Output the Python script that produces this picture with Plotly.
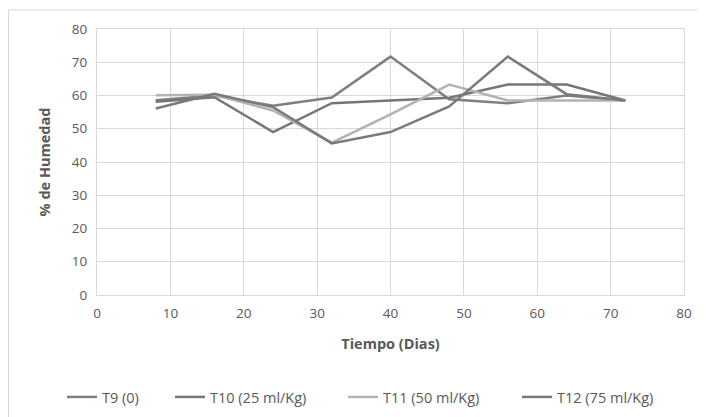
import plotly.graph_objects as go

dias = [8, 16, 24, 32, 40, 48, 56, 64, 72]
t9 = [58.6, 60.0, 56.9, 59.4, 71.7, 58.9, 57.7, 60.0, 58.5]
t10 = [58.1, 59.5, 49.0, 57.7, 58.5, 59.3, 63.3, 63.3, 58.5]
t11 = [60.1, 60.2, 55.5, 45.8, 54.3, 63.3, 58.5, 58.5, 58.5]
t12 = [56.1, 60.5, 56.5, 45.6, 49.0, 56.7, 71.7, 60.4, 58.5]
names = ["T9 (0)", "T10 (25 ml/Kg)", "T11 (50 ml/Kg)", "T12 (75 ml/Kg)"]
colors = ["#7f7f7f", "#767676", "#b3b3b3", "#7a7a7a"]
series = [t9, t10, t11, t12]

font = "Open Sans, Liberation Sans, sans-serif"
# page body has an 8px margin; compensate
OFF = 8
W, H = 706 - OFF, 417 - OFF
L, R, T, B = 97 - OFF, 22, 29 - OFF, 122
pw, ph = W - L - R, H - T - B

def px(xpix):
    return (xpix - OFF - L) / pw

def py(ypix):
    return (H - B - (ypix - OFF)) / ph

def cx(xpix):
    return (xpix - OFF) / W

def cy(ypix):
    return (H - (ypix - OFF)) / H

legend_ids = ["legend", "legend2", "legend3", "legend4"]
legend_x = [62, 170, 343, 517]

fig = go.Figure()
for n, c, s, lid in zip(names, colors, series, legend_ids):
    fig.add_trace(go.Scatter(x=dias, y=s, mode="lines", name=n, legend=lid,
                             line=dict(color=c, width=2.5)))

legend_layout = {}
for lid, lx in zip(legend_ids, legend_x):
    legend_layout[lid] = dict(orientation="h", xref="container", yref="container",
                              x=cx(lx), xanchor="left",
                              y=cy(397), yanchor="middle",
                              font=dict(size=14.5, color="#595959"),
                              bgcolor="rgba(0,0,0,0)")

fig.update_layout(
    width=W, height=H,
    margin=dict(l=L, r=R, t=T, b=B, autoexpand=False),
    paper_bgcolor="white", plot_bgcolor="white",
    font=dict(family=font, color="#595959", size=13),
    showlegend=True,
    xaxis=dict(range=[0, 80], dtick=10, showgrid=True, gridcolor="#d9d9d9",
               zeroline=False, showline=True, linecolor="#d9d9d9", linewidth=1,
               mirror=True, ticks="", tickfont=dict(size=13.5, color="#595959"),
               ticklabelstandoff=6,
               title=dict(text="<b>Tiempo (Dias)</b>", font=dict(size=14.5, color="#595959"),
                          standoff=17)),
    yaxis=dict(range=[0, 80], dtick=10, showgrid=True, gridcolor="#d9d9d9",
               zeroline=False, showline=True, linecolor="#d9d9d9", linewidth=1,
               mirror=True, ticks="", tickfont=dict(size=13.5, color="#595959"),
               ticklabelstandoff=6,
               title=dict(text="<b>% de Humedad</b>", font=dict(size=14.5, color="#595959"),
                          standoff=17)),
    shapes=[
        dict(type="line", xref="paper", yref="paper",
             x0=px(8.5), x1=px(706), y0=py(10), y1=py(10),
             line=dict(color="#d9d9d9", width=1)),
        dict(type="line", xref="paper", yref="paper",
             x0=px(8.5), x1=px(8.5), y0=py(10), y1=py(417),
             line=dict(color="#d9d9d9", width=1)),
    ],
    **legend_layout,
)
fig.write_html("out.html")
